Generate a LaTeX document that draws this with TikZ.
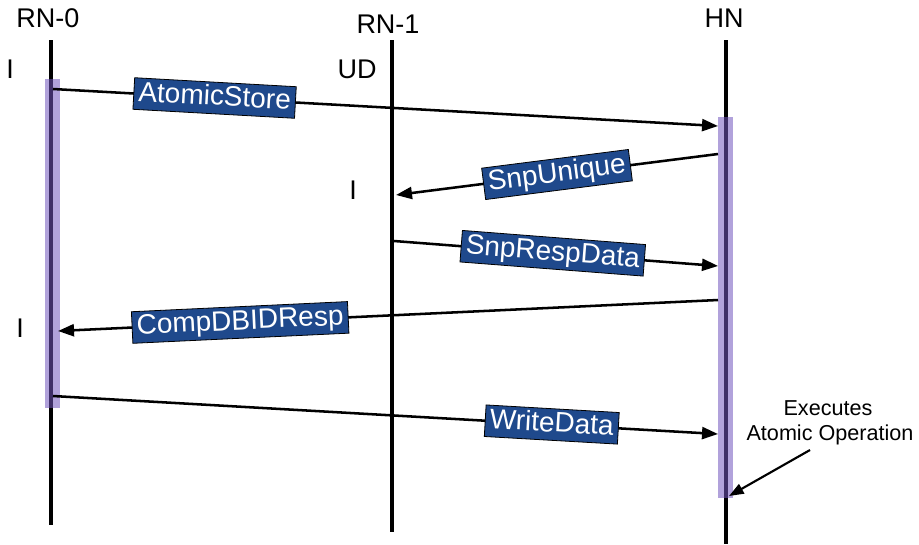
\documentclass[tikz,border=0pt]{standalone}
\usepackage{fontspec}
\setmainfont{Liberation Sans}
\usetikzlibrary{arrows.meta}
\definecolor{msgblue}{RGB}{31,73,140}
\definecolor{barpurple}{RGB}{113,85,189}
\begin{document}
\begin{tikzpicture}[x=0.75pt,y=-0.75pt,
  lifeline/.style={line width=3pt},
  actbar/.style={fill=barpurple,fill opacity=0.55,draw=none},
  msg/.style={line width=1.9pt,-{Triangle[length=12pt,width=9pt]}},
  msglabel/.style={sloped,fill=msgblue,draw=black,line width=0.6pt,text=white,
    font=\fontsize{21}{23}\selectfont,inner xsep=3.5pt,inner ysep=2pt,
    text height=15.3pt,text depth=4.4pt},
  bigtext/.style={font=\fontsize{20.25}{22}\selectfont,anchor=base,inner sep=0pt},
  notetext/.style={font=\fontsize{16.2}{20}\selectfont,anchor=base,inner sep=0pt},
  notearrow/.style={line width=1.6pt,-{Triangle[length=11pt,width=8pt]}},
]
\useasboundingbox (0,0) rectangle (919,544);

% lifeline headings
\node[bigtext] (rn0) at (48,27) {RN-0};
\node[bigtext] (rn1) at (388,33) {RN-1};
\node[bigtext] (hn)  at (724,27) {HN};

% lifeline ends
\coordinate (rn0top) at (51,40);  \coordinate (rn0bot) at (51,525);
\coordinate (rn1top) at (392,40); \coordinate (rn1bot) at (392,532);
\coordinate (hntop)  at (726,40); \coordinate (hnbot)  at (726,544);

\draw[lifeline] (rn0top) -- (rn0bot);
\draw[lifeline] (rn1top) -- (rn1bot);
\draw[lifeline] (hntop) -- (hnbot);

% activation bars
\fill[actbar] (45,79) rectangle (60,408);
\fill[actbar] (718,117) rectangle (733,498);

% cache states
\node[bigtext] (st0) at (10,78) {I};
\node[bigtext] (st1) at (357,78) {UD};
\node[bigtext] (st2) at (353,199) {I};
\node[bigtext] (st3) at (20,337) {I};

% message end points
\coordinate (m1s) at (53,89);   \coordinate (m1e) at (718,126);
\coordinate (m2s) at (718,154); \coordinate (m2e) at (396,195);
\coordinate (m3s) at (394,241); \coordinate (m3e) at (718,266);
\coordinate (m4s) at (718,300); \coordinate (m4e) at (58,331);
\coordinate (m5s) at (53,396);  \coordinate (m5e) at (718,434);

\draw[msg] (m1s) -- node[msglabel,pos=0.243] (l1) {AtomicStore} (m1e);
\draw[msg] (m2s) -- node[msglabel,pos=0.50] (l2) {SnpUnique} (m2e);
\draw[msg] (m3s) -- node[msglabel,pos=0.49] (l3) {SnpRespData} (m3e);
\draw[msg] (m4s) -- node[msglabel,pos=0.724] (l4) {CompDBIDResp} (m4e);
\draw[msg] (m5s) -- node[msglabel,pos=0.75] (l5) {WriteData} (m5e);

% annotation
\node[notetext] (note1) at (828,415) {Executes};
\node[notetext] (note2) at (830,440) {Atomic Operation};
\coordinate (notefrom) at (810,450);
\coordinate (noteto) at (729,496);
\draw[notearrow] (notefrom) -- (noteto);
\end{tikzpicture}
\end{document}
